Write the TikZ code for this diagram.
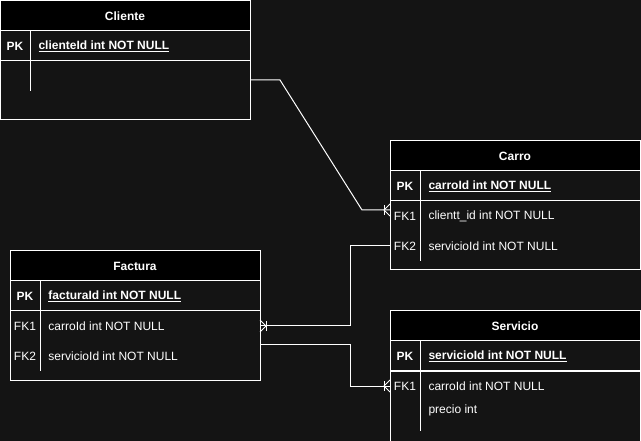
\documentclass[tikz,border=0pt]{standalone}
\usepackage{fontspec}
\setmainfont{Liberation Sans}
\usetikzlibrary{positioning}
\definecolor{bg}{RGB}{20,20,20}

\begin{document}
\begin{tikzpicture}[x=1pt,y=-1pt,line width=1pt,
  every node/.style={text=white,font=\fontsize{12}{14}\selectfont},
  head/.style={draw=white,fill=black,minimum width=250pt,minimum height=30pt,
    inner sep=0pt,outer sep=0pt,font=\fontsize{12}{14}\selectfont\bfseries},
  rowbox/.style={draw=white,fill=bg,minimum width=250pt,minimum height=30pt,
    inner sep=0pt,outer sep=0pt},
  fkrow/.style={minimum width=250pt,minimum height=30pt,inner sep=0pt,outer sep=0pt},
  keytxt/.style={inner sep=0pt},
  fieldtxt/.style={anchor=west,inner sep=0pt},
  crowfoot/.pic={
    \draw[white,line width=0.8pt] (0,-6) -- (-6,0) -- (0,6);
    \draw[white,line width=0.8pt] (-6,-5) -- (-6,5);
  }]

  \useasboundingbox (0,0) rectangle (641,441);
  \fill[bg] (0,0) rectangle (641,441);

  % Cliente
  \node[head] (cliente) at (125,16) {Cliente};
  \node[rowbox, below=0pt of cliente] (cliente-pk) {};
  \node[rowbox, minimum height=59pt, below=0pt of cliente-pk] (cliente-body) {};
  \node[keytxt, font=\fontsize{12}{14}\selectfont\bfseries] (cliente-pk-k) at ([xshift=15pt]cliente-pk.west) {PK};
  \node[fieldtxt, font=\fontsize{12}{14}\selectfont\bfseries] (cliente-pk-f) at ([xshift=38pt]cliente-pk.west) {\underline{clienteId int NOT NULL}};
  \draw[white] (cliente-pk.north west) ++(30,0) -- ++(0,60);

  % Carro
  \node[head] (carro) at (515,156) {Carro};
  \node[rowbox, below=0pt of carro] (carro-pk) {};
  \node[rowbox, minimum height=69pt, below=0pt of carro-pk] (carro-body) {};
  \node[fkrow, below=0pt of carro-pk] (carro-fk1) {};
  \node[fkrow, below=0pt of carro-fk1] (carro-fk2) {};
  \node[keytxt, font=\fontsize{12}{14}\selectfont\bfseries] (carro-pk-k) at ([xshift=15pt]carro-pk.west) {PK};
  \node[fieldtxt, font=\fontsize{12}{14}\selectfont\bfseries] (carro-pk-f) at ([xshift=38pt]carro-pk.west) {\underline{carroId int NOT NULL}};
  \node[keytxt] (carro-fk1-k) at ([xshift=15pt]carro-fk1.west) {FK1};
  \node[fieldtxt] (carro-fk1-f) at ([xshift=38pt]carro-fk1.west) {clientt\_id int NOT NULL};
  \node[keytxt] (carro-fk2-k) at ([xshift=15pt]carro-fk2.west) {FK2};
  \node[fieldtxt] (carro-fk2-f) at ([xshift=38pt]carro-fk2.west) {servicioId int NOT NULL};
  \draw[white] (carro-pk.north west) ++(30,0) -- ++(0,90);

  % Factura
  \node[head] (factura) at (135,266) {Factura};
  \node[rowbox, below=0pt of factura] (factura-pk) {};
  \node[rowbox, minimum height=69pt, below=0pt of factura-pk] (factura-body) {};
  \node[fkrow, below=0pt of factura-pk] (factura-fk1) {};
  \node[fkrow, below=0pt of factura-fk1] (factura-fk2) {};
  \node[keytxt, font=\fontsize{12}{14}\selectfont\bfseries] (factura-pk-k) at ([xshift=15pt]factura-pk.west) {PK};
  \node[fieldtxt, font=\fontsize{12}{14}\selectfont\bfseries] (factura-pk-f) at ([xshift=38pt]factura-pk.west) {\underline{facturaId int NOT NULL}};
  \node[keytxt] (factura-fk1-k) at ([xshift=15pt]factura-fk1.west) {FK1};
  \node[fieldtxt] (factura-fk1-f) at ([xshift=38pt]factura-fk1.west) {carroId int NOT NULL};
  \node[keytxt] (factura-fk2-k) at ([xshift=15pt]factura-fk2.west) {FK2};
  \node[fieldtxt] (factura-fk2-f) at ([xshift=38pt]factura-fk2.west) {servicioId int NOT NULL};
  \draw[white] (factura-pk.north west) ++(30,0) -- ++(0,90);

  % Servicio
  \node[head] (servicio) at (515,326) {Servicio};
  \node[rowbox, below=0pt of servicio] (servicio-pk) {};
  \node[rowbox, minimum height=74pt, below=0pt of servicio-pk] (servicio-body) {};
  \node[fkrow, below=0pt of servicio-pk] (servicio-fk1) {};
  \node[fkrow, minimum height=18pt, below=0pt of servicio-fk1] (servicio-r2) {};
  \node[keytxt, font=\fontsize{12}{14}\selectfont\bfseries] (servicio-pk-k) at ([xshift=15pt]servicio-pk.west) {PK};
  \node[fieldtxt, font=\fontsize{12}{14}\selectfont\bfseries] (servicio-pk-f) at ([xshift=38pt]servicio-pk.west) {\underline{servicioId int NOT NULL}};
  \node[keytxt] (servicio-fk1-k) at ([xshift=15pt]servicio-fk1.west) {FK1};
  \node[fieldtxt] (servicio-fk1-f) at ([xshift=38pt]servicio-fk1.west) {carroId int NOT NULL};
  \node[fieldtxt] (servicio-r2-f) at ([xshift=38pt]servicio-r2.west) {precio int};
  \draw[white] (servicio-pk.north west) ++(30,0) -- ++(0,90);

  % relaciones
  \coordinate (cliente-out) at (250,80);
  \coordinate (carro-in) at (390,210);
  \coordinate (factura-out) at (260,345);
  \draw[white] (cliente-out) -- ++(30,0) -- ([xshift=-28pt]carro-in) -- (carro-in);
  \draw[white] (carro-fk2.west) -- ++(-40,0) |- (factura-fk1.east);
  \draw[white] (factura-out) -- ++(90,0) |- (servicio-fk1.west);
  \pic at (carro-in) {crowfoot};
  \pic[rotate=180] at (factura-fk1.east) {crowfoot};
  \pic at (servicio-fk1.west) {crowfoot};
\end{tikzpicture}
\end{document}
